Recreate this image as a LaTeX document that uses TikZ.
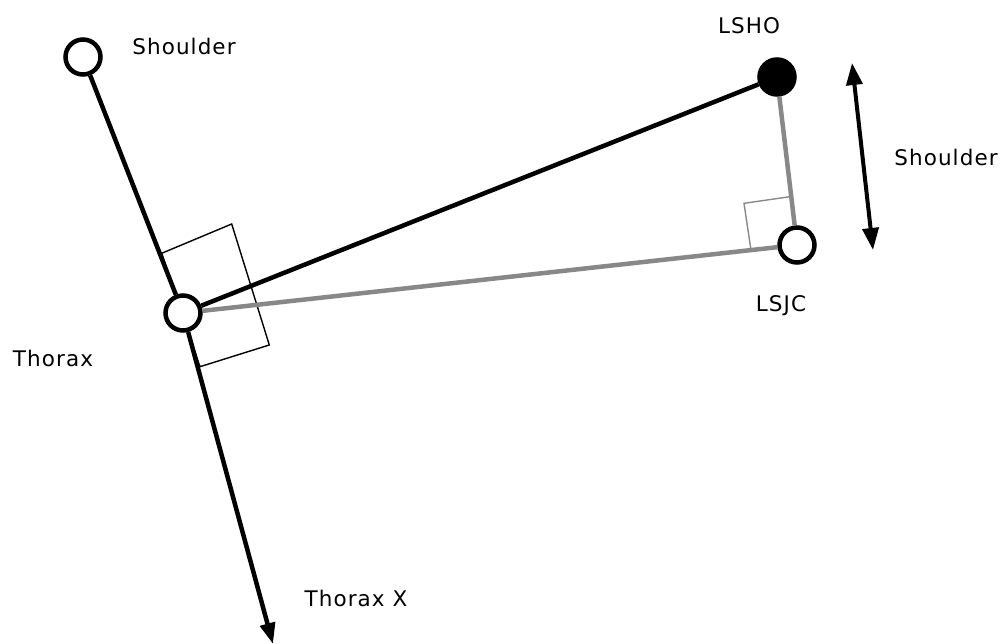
\documentclass[tikz,border=0pt]{standalone}
\usepackage{xcolor}
\usepackage{fontspec}
\setmainfont[LetterSpace=5]{DejaVu Sans}
\usetikzlibrary{arrows.meta}
\definecolor{limbgray}{RGB}{136,136,136}

\begin{document}
\begin{tikzpicture}[x=1pt,y=-1pt,
                    marker/.style={shape=circle,draw=black,line width=4.5pt,fill=white,minimum size=35pt,inner sep=0pt},
                    seg/.style={line width=4.5pt},
                    tag/.style={font=\fontsize{21.5}{24}\selectfont,inner sep=0pt}]
                    \useasboundingbox (0,0) rectangle (1007,644);

                    \draw[black,line width=1.4pt] (161.7,253.3) -- (231.7,224) -- (269.3,345) -- (200,366.7) -- cycle;
                    \draw[limbgray,line width=1.4pt] (750.7,248.3) -- (744,203.3) -- (790,196.7);

                    \node[marker] (S) at (83,57) {};
                    \node[marker] (T) at (183,313) {};
                    \node[marker,fill=black] (H) at (777,77) {};
                    \node[marker] (J) at (797,245) {};
                    \coordinate (X) at (273,644);
                    \coordinate (U) at (852,63);
                    \coordinate (D) at (873,250);

                    \node[tag] (lS) at (184,46) {Shoulder};
                    \node[tag] (lH) at (749,26) {LSHO};
                    \node[tag] (lR) at (946,157) {Shoulder};
                    \node[tag] (lJ) at (781,306) {LSJC};
                    \node[tag] (lT) at (53,358) {Thorax};
                    \node[tag] (lX) at (356,598) {Thorax X};

                    \draw[seg,limbgray] (T) -- (J);
                    \draw[seg,limbgray] (H) -- (J);
                    \draw[seg] (S) -- (T);
                    \draw[seg] (T) -- (H);
                    \draw[seg,-{Triangle[length=21pt,width=15pt]}] (T) -- (X);
                    \draw[line width=4pt,{Triangle[length=22pt,width=16pt]}-{Triangle[length=22pt,width=16pt]}] (U) -- (D);
                \end{tikzpicture}
\end{document}
